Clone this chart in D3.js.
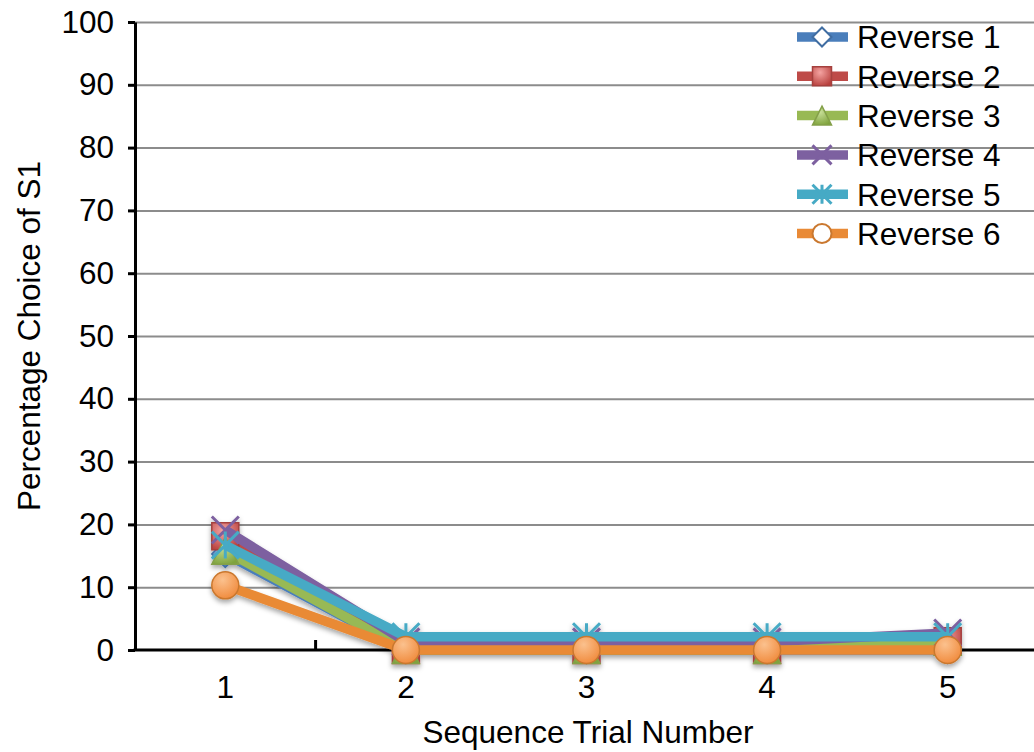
<!DOCTYPE html>
<html>
<head>
<meta charset="utf-8">
<script src="https://cdn.jsdelivr.net/npm/d3@7"></script>
<style>
  body { margin: 0; background: #fff; }
  svg { display: block; font-family: 'Liberation Sans', Arial, sans-serif; }
</style>
</head>
<body>
<div id="chart"></div>
<script>
// data
const trials = ['1', '2', '3', '4', '5'];
const seriesNames = ['Reverse 1', 'Reverse 2', 'Reverse 3', 'Reverse 4', 'Reverse 5', 'Reverse 6'];
const reverse1 = [15.3, 0, 0, 0, 0];
const reverse2 = [18.1, 0, 0, 0, 1.4];
const reverse3 = [15.8, 0, 0, 0, 1.3];
const reverse4 = [19.1, 1.3, 1.3, 1.3, 2.7];
const reverse5 = [16.7, 2.1, 2.1, 2.1, 2.1];
const reverse6 = [10.3, 0, 0, 0, 0];
const yTicks = [0, 10, 20, 30, 40, 50, 60, 70, 80, 90, 100];

const seriesValues = [reverse1, reverse2, reverse3, reverse4, reverse5, reverse6];
const lineColors = ['#4A7EBB', '#BE4B48', '#98B954', '#7D60A0', '#46AAC5', '#E98A36'];
const fillLight = ['#9DB9E0', '#F4A3A1', '#C9E09A', '#B9A6D2', '#A0DCEC', '#FBC18E'];
const fillDark = ['#3F6FAF', '#B8403D', '#7FA33C', '#6A4E8E', '#3596B0', '#F0893A'];
const shapes = ['diamond', 'square', 'triangle', 'x', 'asterisk', 'circle'];

const W = 1034, H = 752;
const svg = d3.select('#chart').append('svg')
  .attr('width', W)
  .attr('height', H);

const defs = svg.append('defs');
seriesNames.forEach((n, i) => {
  const g = defs.append('radialGradient')
    .attr('id', 'grad' + i)
    .attr('cx', '40%').attr('cy', '30%').attr('r', '75%');
  g.append('stop').attr('offset', '0%').attr('stop-color', fillLight[i]);
  g.append('stop').attr('offset', '100%').attr('stop-color', fillDark[i]);
});
const shadow = defs.append('filter').attr('id', 'shadow')
  .attr('x', '-50%').attr('y', '-50%').attr('width', '200%').attr('height', '200%');
shadow.append('feDropShadow')
  .attr('dx', 0).attr('dy', 3).attr('stdDeviation', 2.5)
  .attr('flood-color', '#000').attr('flood-opacity', 0.35);

const plotLeft = 135, plotRight = 1038, plotTop = 22, plotBottom = 650;

const x = d3.scaleBand()
  .domain(trials)
  .range([plotLeft, plotRight])
  .paddingInner(0).paddingOuter(0);

const y = d3.scaleLinear()
  .domain([0, 100])
  .range([plotBottom, plotTop]);

const fontSize = 31.5;

// grid lines
svg.append('g')
  .attr('class', 'grid')
  .attr('transform', `translate(${plotLeft},0)`)
  .call(d3.axisLeft(y).tickValues(yTicks.filter(t => t > 0)).tickSize(-(W - plotLeft)).tickFormat(''))
  .call(g => g.select('.domain').remove())
  .call(g => g.selectAll('line').attr('stroke', '#8c8c8c').attr('stroke-width', 2));

// y axis
svg.append('g')
  .attr('class', 'axis')
  .attr('transform', `translate(${plotLeft},0)`)
  .call(d3.axisLeft(y).tickValues(yTicks).tickSize(7).tickSizeOuter(0).tickPadding(14))
  .call(g => g.select('.domain').attr('stroke', '#000').attr('stroke-width', 3))
  .call(g => g.selectAll('line').attr('stroke', '#000').attr('stroke-width', 3))
  .call(g => g.selectAll('text').attr('font-size', fontSize).attr('font-family', "'Liberation Sans', Arial, sans-serif").attr('fill', '#000'));

// x axis (ticks between categories, pointing up)
const boundaries = trials.slice(1).map(t => x(t));
const xAxis = svg.append('g').attr('class', 'axis');
xAxis.append('line')
  .attr('x1', plotLeft - 1.5).attr('x2', W)
  .attr('y1', plotBottom).attr('y2', plotBottom)
  .attr('stroke', '#000').attr('stroke-width', 3);
xAxis.selectAll('.bt')
  .data(boundaries)
  .enter().append('line')
  .attr('x1', d => d).attr('x2', d => d)
  .attr('y1', plotBottom - 10).attr('y2', plotBottom)
  .attr('stroke', '#000').attr('stroke-width', 3);
xAxis.selectAll('.xl')
  .data(trials)
  .enter().append('text')
  .attr('x', d => x(d) + x.bandwidth() / 2)
  .attr('y', plotBottom + 48)
  .attr('text-anchor', 'middle')
  .attr('font-size', fontSize)
  .text(d => d);

// axis titles
svg.append('text')
  .attr('x', 588)
  .attr('y', 743)
  .attr('text-anchor', 'middle')
  .attr('font-size', fontSize)
  .text('Sequence Trial Number');

svg.append('text')
  .attr('transform', `translate(40, ${(plotTop + plotBottom) / 2}) rotate(-90)`)
  .attr('text-anchor', 'middle')
  .attr('font-size', fontSize)
  .text('Percentage Choice of S1');

function markerPath(shape, s) {
  const h = s / 2;
  if (shape === 'diamond') return `M0,${-h}L${h},0L0,${h}L${-h},0Z`;
  if (shape === 'square') return `M${-h},${-h}H${h}V${h}H${-h}Z`;
  if (shape === 'triangle') return `M0,${-h}L${h},${h}L${-h},${h}Z`;
  if (shape === 'x') return `M${-h},${-h}L${h},${h}M${h},${-h}L${-h},${h}`;
  if (shape === 'asterisk') return `M${-h},${-h}L${h},${h}M${h},${-h}L${-h},${h}M0,${-h}V${h}`;
  return d3.arc()({ innerRadius: 0, outerRadius: h, startAngle: 0, endAngle: 2 * Math.PI });
}

function drawMarker(g, shape, i, s, hollow) {
  const stroked = shape === 'x' || shape === 'asterisk';
  g.append('path')
    .attr('d', markerPath(shape, s))
    .attr('fill', stroked ? 'none' : (hollow ? '#fff' : `url(#grad${i})`))
    .attr('stroke', stroked ? lineColors[i] : d3.color(lineColors[i]).darker(0.4))
    .attr('stroke-width', stroked ? 3 : (hollow ? 2 : 1.5));
}

const line = d3.line()
  .x((d, j) => x(trials[j]) + x.bandwidth() / 2)
  .y(d => y(d));

// series lines and markers
const seriesG = svg.append('g').attr('filter', 'url(#shadow)');
seriesValues.forEach((vals, i) => {
  const g = seriesG.append('g');
  g.append('path')
    .datum(vals)
    .attr('d', line)
    .attr('fill', 'none')
    .attr('stroke', lineColors[i])
    .attr('stroke-width', 9.5)
    .attr('stroke-linejoin', 'round');
  vals.forEach((v, j) => {
    const m = g.append('g')
      .attr('transform', `translate(${x(trials[j]) + x.bandwidth() / 2},${y(v)})`);
    drawMarker(m, shapes[i], i, 27, false);
  });
});

// legend
const legend = svg.append('g').attr('class', 'legend');
seriesNames.forEach((name, i) => {
  const ly = 37 + i * 39.3;
  const row = legend.append('g').attr('transform', `translate(0,${ly})`);
  row.append('line')
    .attr('x1', 797).attr('x2', 848)
    .attr('stroke', lineColors[i]).attr('stroke-width', 9.5);
  const m = row.append('g').attr('transform', 'translate(822,0)');
  const hollow = shapes[i] === 'diamond' || shapes[i] === 'circle';
  drawMarker(m, shapes[i], i, 19, hollow);
  row.append('text')
    .attr('x', 857)
    .attr('y', 0)
    .attr('dy', '0.36em')
    .attr('font-size', fontSize)
    .text(name);
});
</script>
</body>
</html>
